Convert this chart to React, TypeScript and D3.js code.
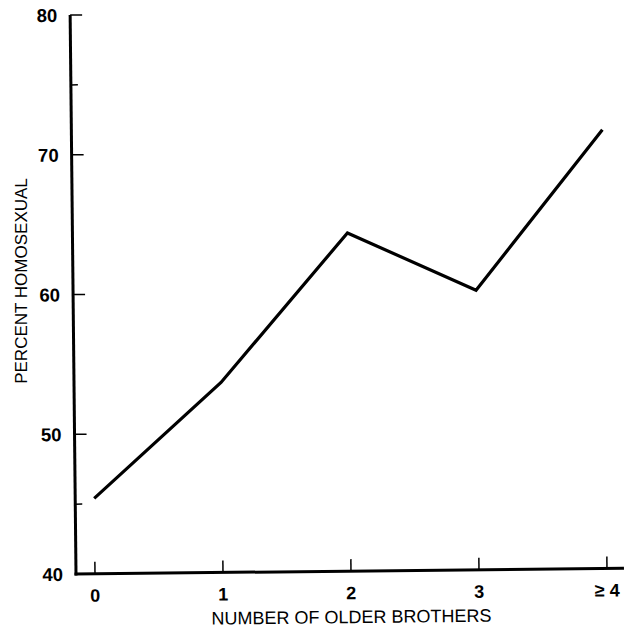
import React from "react";
import * as d3 from "d3";

const categories = ["0", "1", "2", "3", "≥ 4"];
const percentHomosexual = [45.4, 53.6, 64.2, 60.0, 71.4];
const yMajorTicks = [40, 50, 60, 70, 80];
const yMinorTicks = [45, 75];

const W = 628;
const H = 629;
const OX = 76;
const OY = 574;

export default function App() {
  const x = d3.scaleLinear().domain([0, categories.length - 1]).range([95, 607]);
  const y = d3.scaleLinear().domain([40, 80]).range([OY, 15]);
  const line = d3
    .line<number>()
    .x((_, i) => x(i))
    .y((d) => y(d));

  const font = "'Liberation Sans', Arial, Helvetica, sans-serif";

  return (
    <svg
      width={W}
      height={H}
      style={{ position: "absolute", left: 0, top: 0, background: "#fff" }}
      fontFamily={font}
    >
      <rect x={0} y={0} width={W} height={H} fill="#fff" />
      <g transform={`rotate(-0.6, ${OX}, ${OY})`}>
        <line x1={OX} y1={y(80)} x2={OX} y2={OY + 1.5} stroke="#000" strokeWidth={3} />
        <line x1={OX - 1.5} y1={OY} x2={624} y2={OY} stroke="#000" strokeWidth={3} />
        {yMajorTicks.map((t) => (
          <g key={"ym" + t}>
            {t !== 40 && (
              <line x1={OX} x2={OX + 12} y1={y(t)} y2={y(t)} stroke="#000" strokeWidth={1.5} />
            )}
            <text
              x={OX - 13}
              y={y(t)}
              dy="0.36em"
              textAnchor="end"
              fontSize={18.5}
              fontWeight="bold"
              fill="#000"
            >
              {t}
            </text>
          </g>
        ))}
        {yMinorTicks.map((t) => (
          <line key={"yn" + t} x1={OX} x2={OX + 7} y1={y(t)} y2={y(t)} stroke="#000" strokeWidth={1.5} />
        ))}
        {categories.map((c, i) => (
          <g key={"x" + c}>
            <line x1={x(i)} x2={x(i)} y1={OY} y2={OY - 12} stroke="#000" strokeWidth={1.5} />
            <text
              x={x(i)}
              y={OY + 28}
              textAnchor="middle"
              fontSize={18}
              fontWeight="bold"
              fill="#000"
            >
              {c}
            </text>
          </g>
        ))}
        <path
          d={line(percentHomosexual) || ""}
          fill="none"
          stroke="#000"
          strokeWidth={3.2}
          strokeLinejoin="miter"
        />
        <text x={351} y={OY + 52} textAnchor="middle" fontSize={18} fill="#000">
          NUMBER OF OLDER BROTHERS
        </text>
      </g>
      <text
        transform="translate(27, 281) rotate(-90)"
        textAnchor="middle"
        fontSize={17}
        fill="#000"
      >
        PERCENT HOMOSEXUAL
      </text>
    </svg>
  );
}
